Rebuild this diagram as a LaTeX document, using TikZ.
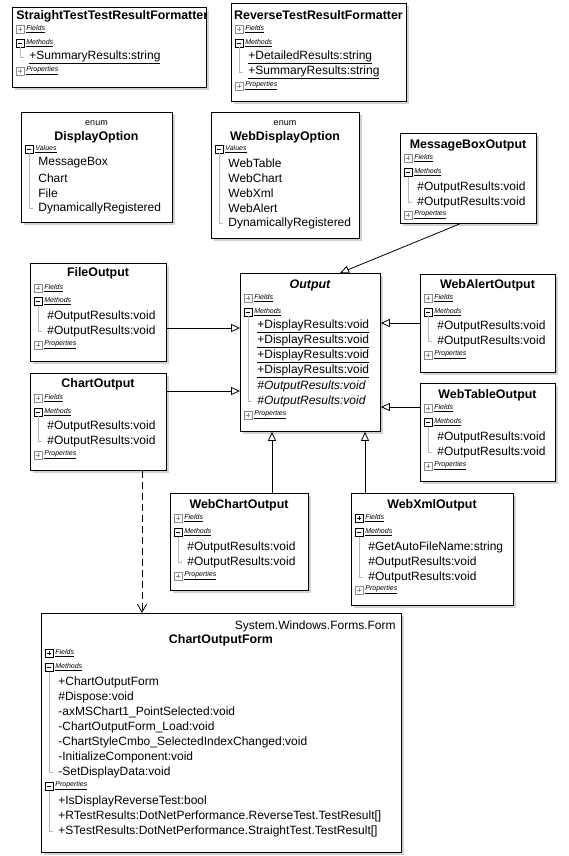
\documentclass[tikz,border=0pt]{standalone}
\usepackage{fontspec}
\setmainfont{Liberation Sans}
\usetikzlibrary{arrows.meta,shadows}
\definecolor{colTREE}{RGB}{185,185,185}
\definecolor{colSHUT}{RGB}{140,140,140}
\tikzset{
  classbox/.style={draw=black, fill=white, anchor=north west, inner sep=0pt,
    drop shadow={shadow xshift=3pt, shadow yshift=-3pt, fill=black!35}},
  classname/.style={inner sep=0pt, font=\fontsize{12.4}{14}\selectfont\bfseries},
  stereo/.style={inner sep=0pt, font=\fontsize{9}{11}\selectfont},
  member/.style={anchor=west, inner sep=0pt, font=\fontsize{12}{14}\selectfont},
  grplabel/.style={anchor=west, inner sep=0pt, font=\fontsize{7}{8}\selectfont\itshape},
  treeline/.style={colTREE, line width=0.6pt},
  inherit/.style={-{Triangle[open, length=9pt, width=8pt]}},
  uses/.style={dash pattern=on 7pt off 4pt, -{Straight Barb[length=8pt, width=9pt]}},
}
% group header: prefix, left, y, label, icon colour, 1 = collapsed (plus)
\newcommand{\grp}[6]{%
  \draw[#5, line width=0.6pt, fill=white] (#2+4,#3-4) rectangle (#2+12,#3+4);
  \draw[#5, line width=0.6pt] (#2+6,#3) -- (#2+10,#3);
  \ifnum#6=1\relax \draw[#5, line width=0.6pt] (#2+8,#3-2) -- (#2+8,#3+2);\fi
  \node[grplabel] (#1-#4) at (#2+14,#3) {\underline{#4}};
}
% members: prefix, left, first y, last y, list
\newcommand{\mbrs}[5]{%
  \draw[treeline] (#2+8,#3-10) |- (#2+12,#4);
  \foreach \m [count=\i] in {#5}
    \node[member] (#1-\i) at (#2+17,#3+15*\i-15) {\m};
}

\begin{document}
\begin{tikzpicture}[x=1pt, y=-1pt, line width=0.8pt]
\useasboundingbox (0,0) rectangle (569,856);

% --- formatters ---
\node[classbox, minimum width=194, minimum height=80] (stf) at (12,7) {};
\begin{scope}
  \clip (12.5,7.5) rectangle (205.5,86.5);
  \node[classname, anchor=west] (stf-t) at (16,16) {StraightTestTestResultFormatter};
\end{scope}
\grp{stf}{12}{29}{Fields}{colSHUT}{1}
\grp{stf}{12}{43}{Methods}{black}{0}
\mbrs{stf}{12}{57}{57}{\underline{+SummaryResults:string}}
\grp{stf}{12}{71}{Properties}{colSHUT}{1}

\node[classbox, minimum width=175, minimum height=98] (rtf) at (231,3) {};
\node[classname] (rtf-t) at (318.5,15) {ReverseTestResultFormatter};
\grp{rtf}{231}{29}{Fields}{colSHUT}{1}
\grp{rtf}{231}{43}{Methods}{black}{0}
\mbrs{rtf}{231}{57}{72}{\underline{+DetailedResults:string}, \underline{+SummaryResults:string}}
\grp{rtf}{231}{86}{Properties}{colSHUT}{1}

% --- enums ---
\node[classbox, minimum width=151, minimum height=110] (dispopt) at (21,112) {};
\node[stereo] (dispopt-s) at (96.5,123) {enum};
\node[classname] (dispopt-t) at (96.5,137) {DisplayOption};
\grp{dispopt}{21}{149}{Values}{black}{0}
\mbrs{dispopt}{21}{163}{208}{MessageBox, Chart, File, DynamicallyRegistered}

\node[classbox, minimum width=148, minimum height=126] (webdispopt) at (211,112) {};
\node[stereo] (webdispopt-s) at (285,123) {enum};
\node[classname] (webdispopt-t) at (285,137) {WebDisplayOption};
\grp{webdispopt}{211}{149}{Values}{black}{0}
\mbrs{webdispopt}{211}{163}{223}{WebTable, WebChart, WebXml, WebAlert, DynamicallyRegistered}

% --- outputs ---
\node[classbox, minimum width=136, minimum height=90] (msgbox) at (400,133) {};
\node[classname] (msgbox-t) at (468,145) {MessageBoxOutput};
\grp{msgbox}{400}{158}{Fields}{colSHUT}{1}
\grp{msgbox}{400}{172}{Methods}{black}{0}
\mbrs{msgbox}{400}{187}{202}{\#OutputResults:void, \#OutputResults:void}
\grp{msgbox}{400}{215}{Properties}{colSHUT}{1}

\node[classbox, minimum width=136, minimum height=98] (fileout) at (30,263) {};
\node[classname] (fileout-t) at (98,273) {FileOutput};
\grp{fileout}{30}{288}{Fields}{colSHUT}{1}
\grp{fileout}{30}{301}{Methods}{black}{0}
\mbrs{fileout}{30}{316}{331}{\#OutputResults:void, \#OutputResults:void}
\grp{fileout}{30}{345}{Properties}{colSHUT}{1}

\node[classbox, minimum width=136, minimum height=97] (chartout) at (30,373) {};
\node[classname] (chartout-t) at (98,384) {ChartOutput};
\grp{chartout}{30}{398}{Fields}{colSHUT}{1}
\grp{chartout}{30}{412}{Methods}{black}{0}
\mbrs{chartout}{30}{426}{441}{\#OutputResults:void, \#OutputResults:void}
\grp{chartout}{30}{455}{Properties}{colSHUT}{1}

\node[classbox, minimum width=140, minimum height=158] (output) at (240,273) {};
\node[classname, font=\fontsize{12.4}{14}\selectfont\bfseries\itshape] (output-t) at (310,285) {Output};
\grp{output}{240}{298}{Fields}{colSHUT}{1}
\grp{output}{240}{312}{Methods}{black}{0}
\mbrs{output}{240}{326}{401}{\underline{+DisplayResults:void}, \underline{+DisplayResults:void},
  \underline{+DisplayResults:void}, \underline{+DisplayResults:void},
  \textit{\#OutputResults:void}, \textit{\#OutputResults:void}}
\grp{output}{240}{415}{Properties}{colSHUT}{1}

\node[classbox, minimum width=135, minimum height=98] (webalert) at (420,274) {};
\node[classname] (webalert-t) at (487.5,285) {WebAlertOutput};
\grp{webalert}{420}{298}{Fields}{colSHUT}{1}
\grp{webalert}{420}{312}{Methods}{black}{0}
\mbrs{webalert}{420}{326}{341}{\#OutputResults:void, \#OutputResults:void}
\grp{webalert}{420}{355}{Properties}{colSHUT}{1}

\node[classbox, minimum width=135, minimum height=98] (webtable) at (420,383) {};
\node[classname] (webtable-t) at (487.5,395) {WebTableOutput};
\grp{webtable}{420}{408}{Fields}{colSHUT}{1}
\grp{webtable}{420}{422}{Methods}{black}{0}
\mbrs{webtable}{420}{437}{452}{\#OutputResults:void, \#OutputResults:void}
\grp{webtable}{420}{466}{Properties}{colSHUT}{1}

\node[classbox, minimum width=138, minimum height=97] (webchart) at (170,493) {};
\node[classname] (webchart-t) at (239,505) {WebChartOutput};
\grp{webchart}{170}{518}{Fields}{colSHUT}{1}
\grp{webchart}{170}{532}{Methods}{black}{0}
\mbrs{webchart}{170}{547}{562}{\#OutputResults:void, \#OutputResults:void}
\grp{webchart}{170}{576}{Properties}{colSHUT}{1}

\node[classbox, minimum width=162, minimum height=112] (webxml) at (351,493) {};
\node[classname] (webxml-t) at (432,505) {WebXmlOutput};
\grp{webxml}{351}{518}{Fields}{black}{1}
\grp{webxml}{351}{532}{Methods}{black}{0}
\mbrs{webxml}{351}{547}{577}{\#GetAutoFileName:string, \#OutputResults:void, \#OutputResults:void}
\grp{webxml}{351}{590}{Properties}{colSHUT}{1}

% --- form ---
\node[classbox, minimum width=360, minimum height=239] (cform) at (41,613) {};
\node[member, anchor=east, font=\fontsize{12}{14}\selectfont] (cform-s) at (396,626) {System.Windows.Forms.Form};
\node[classname] (cform-t) at (221,640) {ChartOutputForm};
\grp{cform}{41}{653}{Fields}{black}{1}
\grp{cform}{41}{667}{Methods}{black}{0}
\mbrs{cform}{41}{682}{772}{+ChartOutputForm, \#Dispose:void, -axMSChart1\_PointSelected:void,
  -ChartOutputForm\_Load:void, -ChartStyleCmbo\_SelectedIndexChanged:void,
  -InitializeComponent:void, -SetDisplayData:void}
\grp{cform}{41}{786}{Properties}{black}{0}
\mbrs{cformp}{41}{801}{831}{+IsDisplayReverseTest:bool,
  +RTestResults:DotNetPerformance.ReverseTest.TestResult[],
  +STestResults:DotNetPerformance.StraightTest.TestResult[]}

% --- connectors ---
\draw[inherit] (msgbox.south -| 460,0) -- (output.north -| 340,0);
\draw[inherit] (fileout.east |- 0,328) -- (output.west |- 0,328);
\draw[inherit] (chartout.east |- 0,391) -- (output.west |- 0,391);
\draw[inherit] (webalert.west |- 0,323) -- (output.east |- 0,323);
\draw[inherit] (webtable.west |- 0,407) -- (output.east |- 0,407);
\draw[inherit] (webchart.north -| 272,0) -- (output.south -| 272,0);
\draw[inherit] (webxml.north -| 365,0) -- (output.south -| 365,0);
\draw[uses] (chartout.south -| 142,0) -- (cform.north -| 142,0);
\end{tikzpicture}
\end{document}
